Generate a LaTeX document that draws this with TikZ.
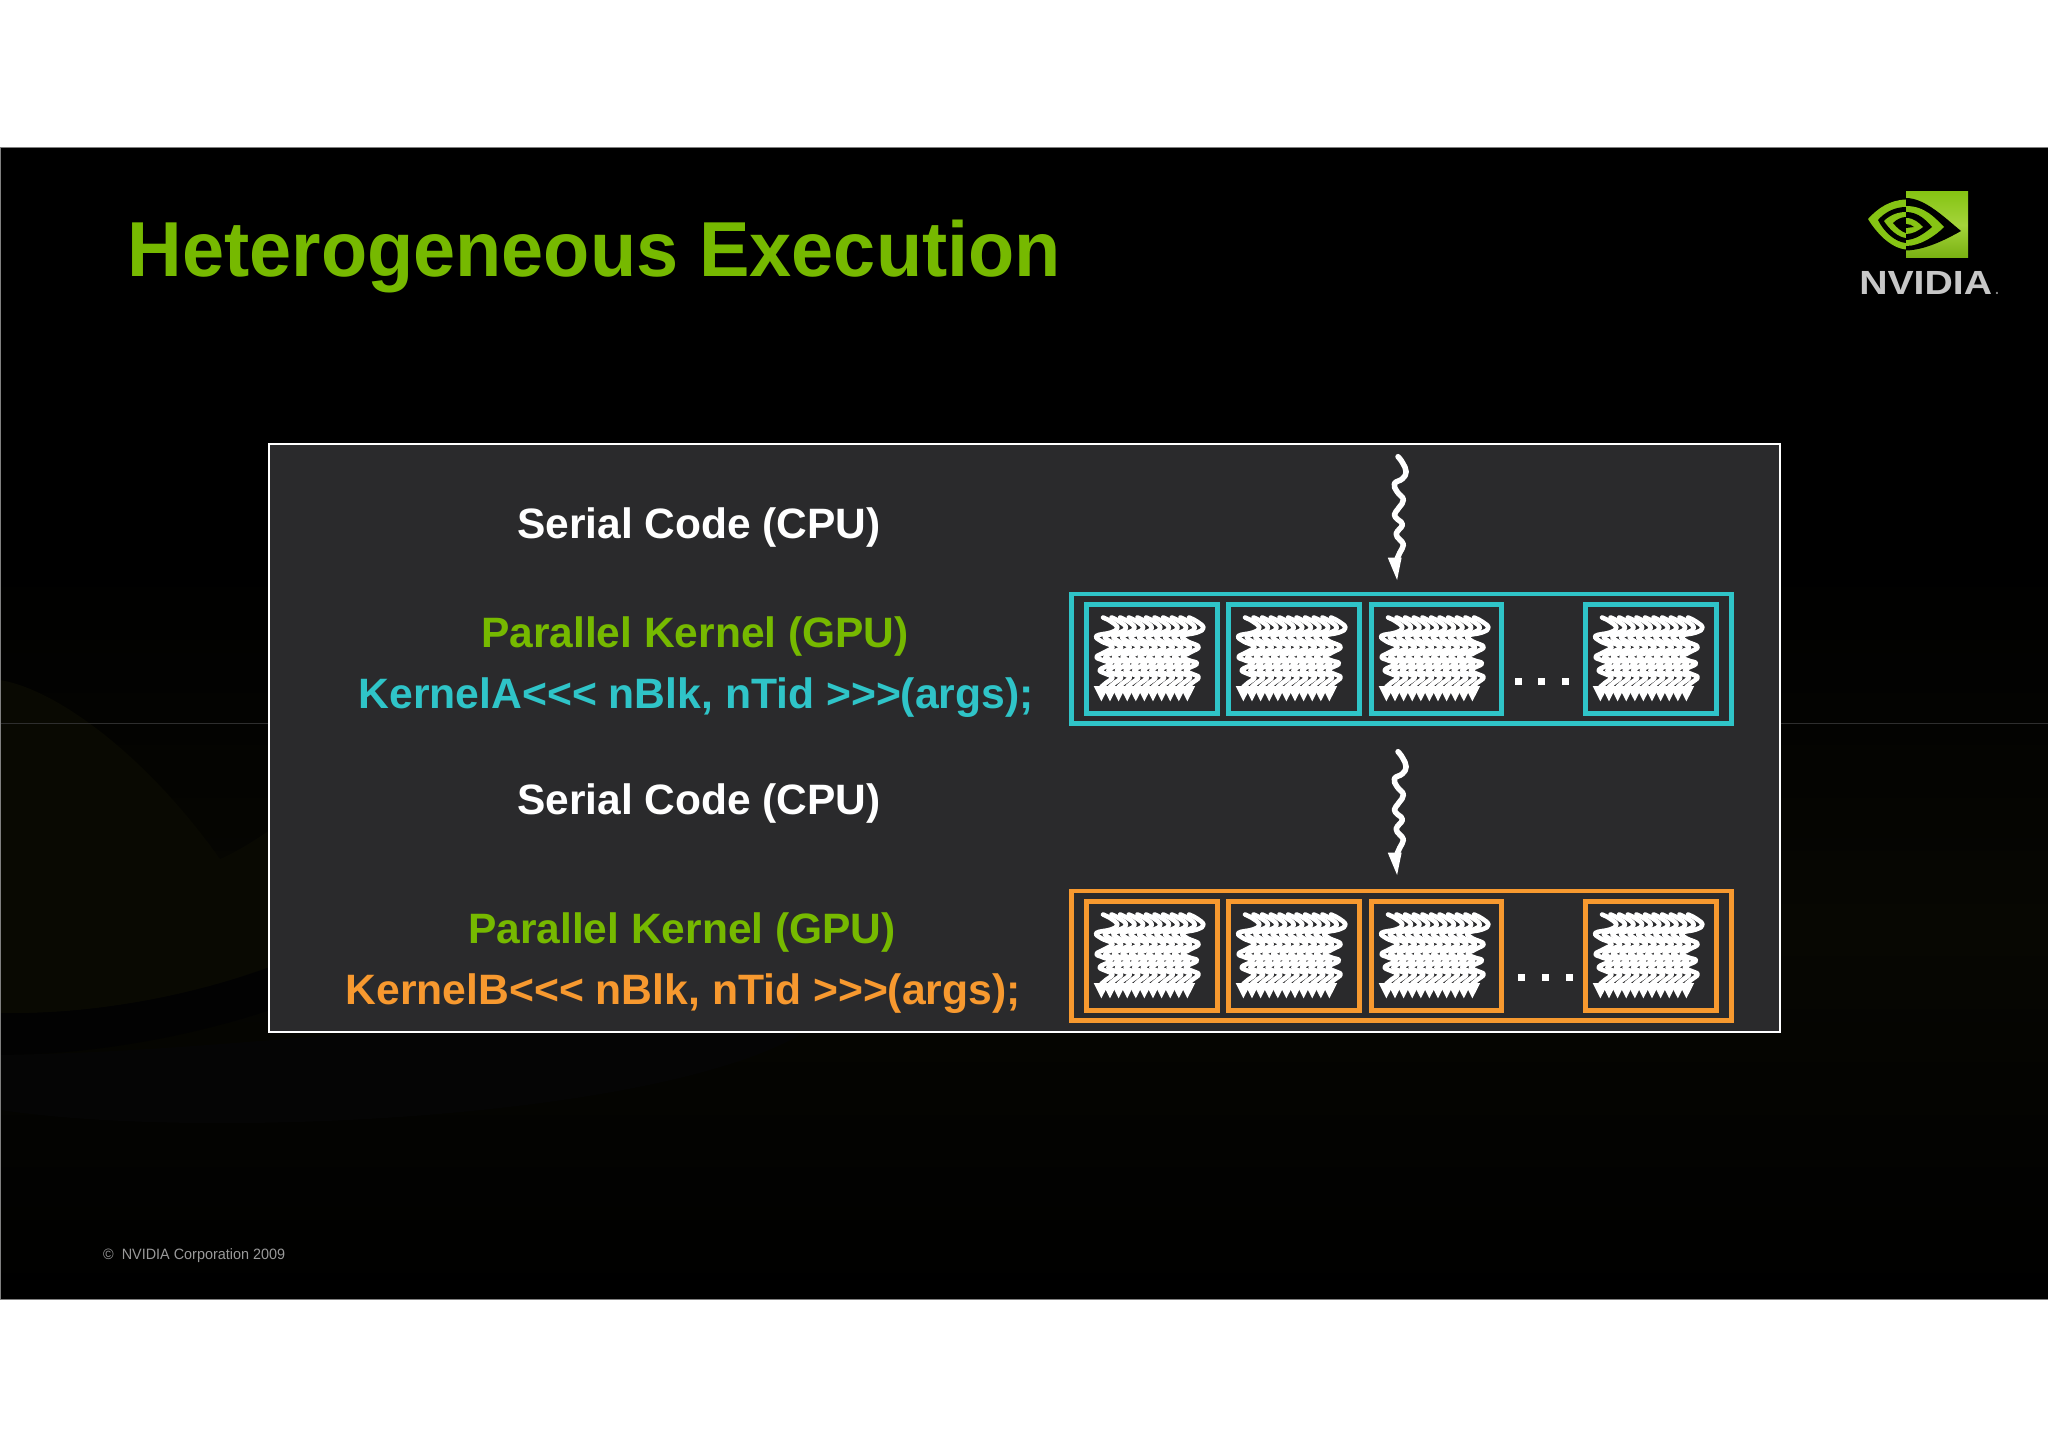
\documentclass[tikz,border=0pt]{standalone}
\usepackage{fontspec}
\setmainfont{Liberation Sans}
\definecolor{nvgreen}{HTML}{76B900}
\definecolor{logogreen}{HTML}{86C414}
\definecolor{logolight}{HTML}{A4D43A}
\definecolor{kcyan}{HTML}{2FC4C8}
\definecolor{korange}{HTML}{F7992F}
\definecolor{panel}{HTML}{2A2A2C}
\definecolor{swoosh}{HTML}{090902}
\definecolor{swooshm}{HTML}{070702}
\definecolor{swooshb}{HTML}{050505}
\definecolor{swooshk}{HTML}{020202}
\tikzset{
  x=1pt,y=-1pt,
  lbl/.style={anchor=base west,inner sep=0pt,font=\bfseries\fontsize{42.5}{50}\selectfont},
  outerbox/.style={draw,line width=4.8pt},
  innerbox/.style={draw,line width=4.8pt},
  dotmark/.style={fill=white,minimum size=7pt,inner sep=0pt},
}
% x y xscale yscale linewidth headleft headright
\newcommand\mythread[7]{%
  \begin{scope}[shift={(#1,#2)},xscale=#3,yscale=#4]
    \draw[white,line width=#5pt,line cap=round,line join=round] plot[smooth,tension=.75] coordinates {(0,0) (5,6) (9,15) (5,22) (-4,27) (-1,35) (6,43) (1,51) (-4,58) (0,63) (5,68) (-2,77) (2,83) (6,88) (2,96) (-1,102)};
    \fill[white] (#6,101) -- (#7,101) -- (-1,123.3) -- cycle;
  \end{scope}}
\newcommand\myblock[2]{%
  \foreach \i in {0,...,10}{\mythread{#1+8.6*\i}{#2}{1.6}{0.68}{4.6}{-5.8}{3.8}}}
\newcommand\mygroup[2]{% y offset, colour
  \draw[outerbox,#2] (1071.5,594+#1) rectangle (1731.5,723.5+#1);
  \foreach \l/\r in {1086.5/1217.5,1228.5/1359.5,1371.5/1501.5,1585.5/1716.5}{
    \draw[innerbox,#2] (\l,604.5+#1) rectangle (\r,713.5+#1);
    \myblock{1103+\l-1086.5}{617.5+#1}
  }}
\begin{document}
\begin{tikzpicture}
\useasboundingbox (0,0) rectangle (2048,1447);
\fill[white] (0,0) rectangle (2048,1447);
\fill[black] (0,147.5) rectangle (2048,1299);
% faint background
\shade[top color=black,bottom color=black,middle color=swooshm] (0,560) rectangle (2048,1299);
\fill[swoosh] (0,680) .. controls (60,690) and (150,760) .. (220,859) .. controls (240,850) and (255,840) .. (270,830) -- (270,967) .. controls (180,1000) and (80,1015) .. (0,1013) -- cycle;
\fill[swooshk] (0,1013) .. controls (80,1015) and (180,1000) .. (270,967) -- (270,1010) .. controls (180,1040) and (80,1055) .. (0,1055) -- cycle;
\fill[swooshb] (0,1055) .. controls (300,1050) and (500,1000) .. (800,1035) .. controls (650,1120) and (200,1140) .. (0,1110) -- cycle;
\draw[white!18!black,line width=1pt] (0,723) -- (2048,723);
\draw[gray,line width=1pt] (0.5,147.5) -- (0.5,1299) (0,147.5) -- (2048,147.5) (0,1299) -- (2048,1299);
% title
\node[anchor=base west,inner sep=0pt,text=nvgreen,font=\bfseries\fontsize{78}{90}\selectfont,xscale=.97] (title) at (127.5,277) {Heterogeneous Execution};
% logo
\begin{scope}
  \shade[top color=logogreen,bottom color=logogreen!90!black,middle color=logolight] (1906,192) rectangle (1968,258);
  \fill[logogreen] (1906,199.5) .. controls (1890,200) and (1878,208) .. (1868,219) .. controls (1876,232) and (1890,248) .. (1906,249.5) -- cycle;
  \fill[black] (1906,207) .. controls (1895,207) and (1885,212) .. (1878,220) .. controls (1884,232) and (1895,242) .. (1906,243) -- cycle;
  \fill[logogreen] (1906,212) .. controls (1898,212) and (1890,215) .. (1884,221) .. controls (1890,230) and (1898,237) .. (1906,238) -- cycle;
  \fill[black] (1906,217) .. controls (1902,217) and (1897,219) .. (1893,223) .. controls (1897,228) and (1902,232) .. (1906,233) -- cycle;
  \fill[black] (1906,198) .. controls (1925,198) and (1945,218) .. (1961,231) .. controls (1945,240) and (1925,250) .. (1906,250.5) -- cycle;
  \fill[logogreen] (1906,206) .. controls (1925,206) and (1935,218) .. (1944,227) .. controls (1935,236) and (1920,246) .. (1906,246) -- cycle;
  \fill[black] (1906,212) .. controls (1918,212) and (1926,220) .. (1932,227) .. controls (1925,233) and (1915,240) .. (1906,240) -- cycle;
  \fill[logogreen] (1906,218) .. controls (1914,218) and (1919,223) .. (1923,227) .. controls (1918,231) and (1912,234) .. (1906,234) -- cycle;
  \fill[black] (1906,224) .. controls (1909,224) and (1912,225) .. (1914,227) -- (1906,228) -- cycle;
\end{scope}
\node[anchor=base west,inner sep=0pt,text=white!78!black,font=\bfseries\fontsize{33.5}{40}\selectfont,xscale=1.17] (nv) at (1859,295) {NVIDIA};
\node[anchor=base west,inner sep=0pt,text=gray,font=\bfseries\fontsize{14}{16}\selectfont] (nvdot) at (1995,295) {.};
% panel
\draw[white,fill=panel,line width=2.5pt] (269,444) rectangle (1780,1032);
% labels
\node[lbl,text=white] (s1) at (517,538) {Serial Code (CPU)};
\node[lbl,text=nvgreen] (p1) at (481,647) {Parallel Kernel (GPU)};
\node[lbl,text=kcyan,xscale=1.004] (ka) at (358.5,708) {KernelA{<}{<}{<} nBlk, nTid {>}{>}{>}(args);};
\node[lbl,text=white] (s2) at (517,814) {Serial Code (CPU)};
\node[lbl,text=nvgreen] (p2) at (468,943) {Parallel Kernel (GPU)};
\node[lbl,text=korange,xscale=1.004] (kb) at (345.5,1004) {KernelB{<}{<}{<} nBlk, nTid {>}{>}{>}(args);};
% threads
\mythread{1398}{456.7}{.9}{1}{5.5}{-11.4}{4}
\mythread{1398}{751.7}{.9}{1}{5.5}{-11.4}{4}
% groups
\mygroup{0}{kcyan}
\mygroup{297}{korange}
\foreach \x in {1518,1541,1565}{\node[dotmark] at (\x,681) {};}
\foreach \x in {1521,1545,1569}{\node[dotmark] at (\x,977) {};}
% footer
\node[anchor=base west,inner sep=0pt,text=white!60!black,font=\fontsize{15}{18}\selectfont,xscale=.96] (foot) at (103,1259) {©\ \ NVIDIA Corporation 2009};
\end{tikzpicture}
\end{document}
